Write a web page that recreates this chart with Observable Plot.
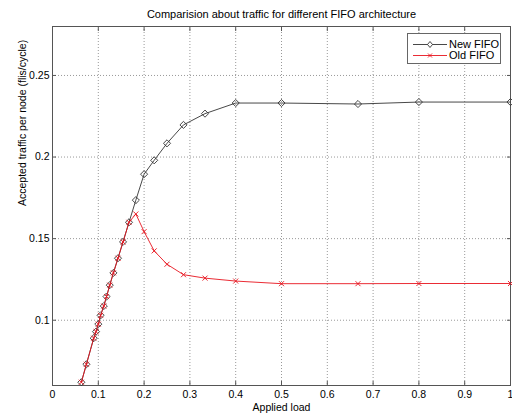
<!DOCTYPE html>
<html>
<head>
<meta charset="utf-8">
<script src="https://cdn.jsdelivr.net/npm/d3@7"></script>
<script src="https://cdn.jsdelivr.net/npm/@observablehq/plot@0.6"></script>
<style>
  html, body { margin: 0; padding: 0; background: #fff; }
  #wrap { position: relative; width: 512px; height: 415px; font-family: "Liberation Sans", Arial, sans-serif; }
  #legend { position: absolute; left: 407px; top: 33px; width: 94px; height: 31px; border: 1px solid #666; background: #fff; box-sizing: border-box; }
  .row { position: absolute; left: 0; height: 12px; display: flex; align-items: center; font-size: 11px; color: #000; white-space: nowrap; }
  .row svg { margin-left: 5px; margin-right: 2px; flex: none; }
</style>
</head>
<body>
<div id="wrap"></div>
<script>
// ---- data ----
const titleText = "Comparision about traffic for different FIFO architecture";
const xLabel = "Applied load";
const yLabel = "Accepted traffic per node (flis/cycle)";
const seriesNames = ["New FIFO", "Old FIFO"];
const load = [0.063, 0.074, 0.090, 0.095, 0.100, 0.105, 0.112, 0.118, 0.125, 0.133, 0.143, 0.154, 0.167, 0.182, 0.200, 0.222, 0.250, 0.286, 0.333, 0.400, 0.500, 0.667, 0.800, 1.000];
const newFifo = [0.062, 0.073, 0.089, 0.093, 0.0976, 0.103, 0.1087, 0.1145, 0.1215, 0.129, 0.138, 0.148, 0.160, 0.1736, 0.1895, 0.198, 0.2084, 0.2197, 0.2266, 0.2331, 0.2331, 0.2325, 0.2337, 0.2337];
const oldFifo = [0.062, 0.073, 0.089, 0.093, 0.0976, 0.103, 0.1087, 0.1145, 0.1215, 0.129, 0.138, 0.148, 0.160, 0.1651, 0.1543, 0.1425, 0.1343, 0.1279, 0.1258, 0.124, 0.1224, 0.1224, 0.1225, 0.1225];
const xTicks = [0, 0.1, 0.2, 0.3, 0.4, 0.5, 0.6, 0.7, 0.8, 0.9, 1];
const yTicks = [0.1, 0.15, 0.2, 0.25];
const xDomain = [0, 1];
const yDomain = [0.06, 0.28];

const newData = load.map((x, i) => ({x, y: newFifo[i]}));
const oldData = load.map((x, i) => ({x, y: oldFifo[i]}));
const fmt = d => String(+d.toFixed(2));
const font = "Liberation Sans, Arial, sans-serif";

const chart = Plot.plot({
  width: 512,
  height: 415,
  marginLeft: 52,
  marginRight: 2,
  marginTop: 26,
  marginBottom: 30,
  style: {fontFamily: font, fontSize: "10.5px", background: "#fff", color: "#000"},
  x: {domain: xDomain},
  y: {domain: yDomain},
  marks: [
    Plot.gridX(xTicks, {stroke: "#999", strokeOpacity: 1, strokeDasharray: "1,2"}),
    Plot.gridY(yTicks, {stroke: "#999", strokeOpacity: 1, strokeDasharray: "1,2"}),
    Plot.axisX(xTicks, {anchor: "bottom", tickSize: -4, tickPadding: 9, tickFormat: fmt, stroke: "#555", label: null, fontSize: 10.5}),
    Plot.axisX(xTicks, {anchor: "top", tickSize: -4, tickFormat: () => "", stroke: "#555", label: null}),
    Plot.axisY(yTicks, {anchor: "left", tickSize: -4, tickPadding: 7, tickFormat: fmt, stroke: "#555", label: null, fontSize: 10.5}),
    Plot.axisY(yTicks, {anchor: "right", tickSize: -4, tickFormat: () => "", stroke: "#555", label: null}),
    Plot.frame({stroke: "#555"}),
    Plot.line(newData, {x: "x", y: "y", stroke: "#333", strokeWidth: 0.9}),
    Plot.dot(newData, {x: "x", y: "y", symbol: "diamond2", r: 3.2, stroke: "#333", strokeWidth: 0.9, fill: "none"}),
    Plot.line(oldData, {x: "x", y: "y", stroke: "#e8141e", strokeWidth: 0.9}),
    Plot.dot(oldData, {x: "x", y: "y", symbol: "times", r: 2.4, stroke: "#e8141e", strokeWidth: 0.9}),
    Plot.text([titleText], {frameAnchor: "top", dy: -12, fontSize: 11, lineAnchor: "middle", fill: "#000"}),
    Plot.text([xLabel], {frameAnchor: "bottom", dy: 22, fontSize: 10.5, lineAnchor: "middle", fill: "#000"}),
    Plot.text([yLabel], {frameAnchor: "left", dx: -30, rotate: -90, fontSize: 10.5, lineAnchor: "middle", fill: "#000"})
  ]
});
const wrap = document.getElementById("wrap");
wrap.appendChild(chart);

// legend
const legend = document.createElement("div");
legend.id = "legend";
const styles = [
  {name: seriesNames[0], color: "#333", marker: "diamond"},
  {name: seriesNames[1], color: "#e8141e", marker: "times"}
];
styles.forEach((s, i) => {
  const row = document.createElement("div");
  row.className = "row";
  row.style.top = (4 + i * 11) + "px";
  const m = s.marker === "diamond"
    ? `<path d="M17,2.5 L19.5,5.5 L17,8.5 L14.5,5.5 Z" fill="#fff" stroke="${s.color}" stroke-width="0.9"/>`
    : `<path d="M15,3.5 L19,7.5 M19,3.5 L15,7.5" stroke="${s.color}" stroke-width="0.9"/>`;
  row.innerHTML = `<svg width="34" height="11"><line x1="0" y1="5.5" x2="34" y2="5.5" stroke="${s.color}" stroke-width="0.9"/>${m}</svg><span>${s.name}</span>`;
  legend.appendChild(row);
});
wrap.appendChild(legend);
</script>
</body>
</html>
